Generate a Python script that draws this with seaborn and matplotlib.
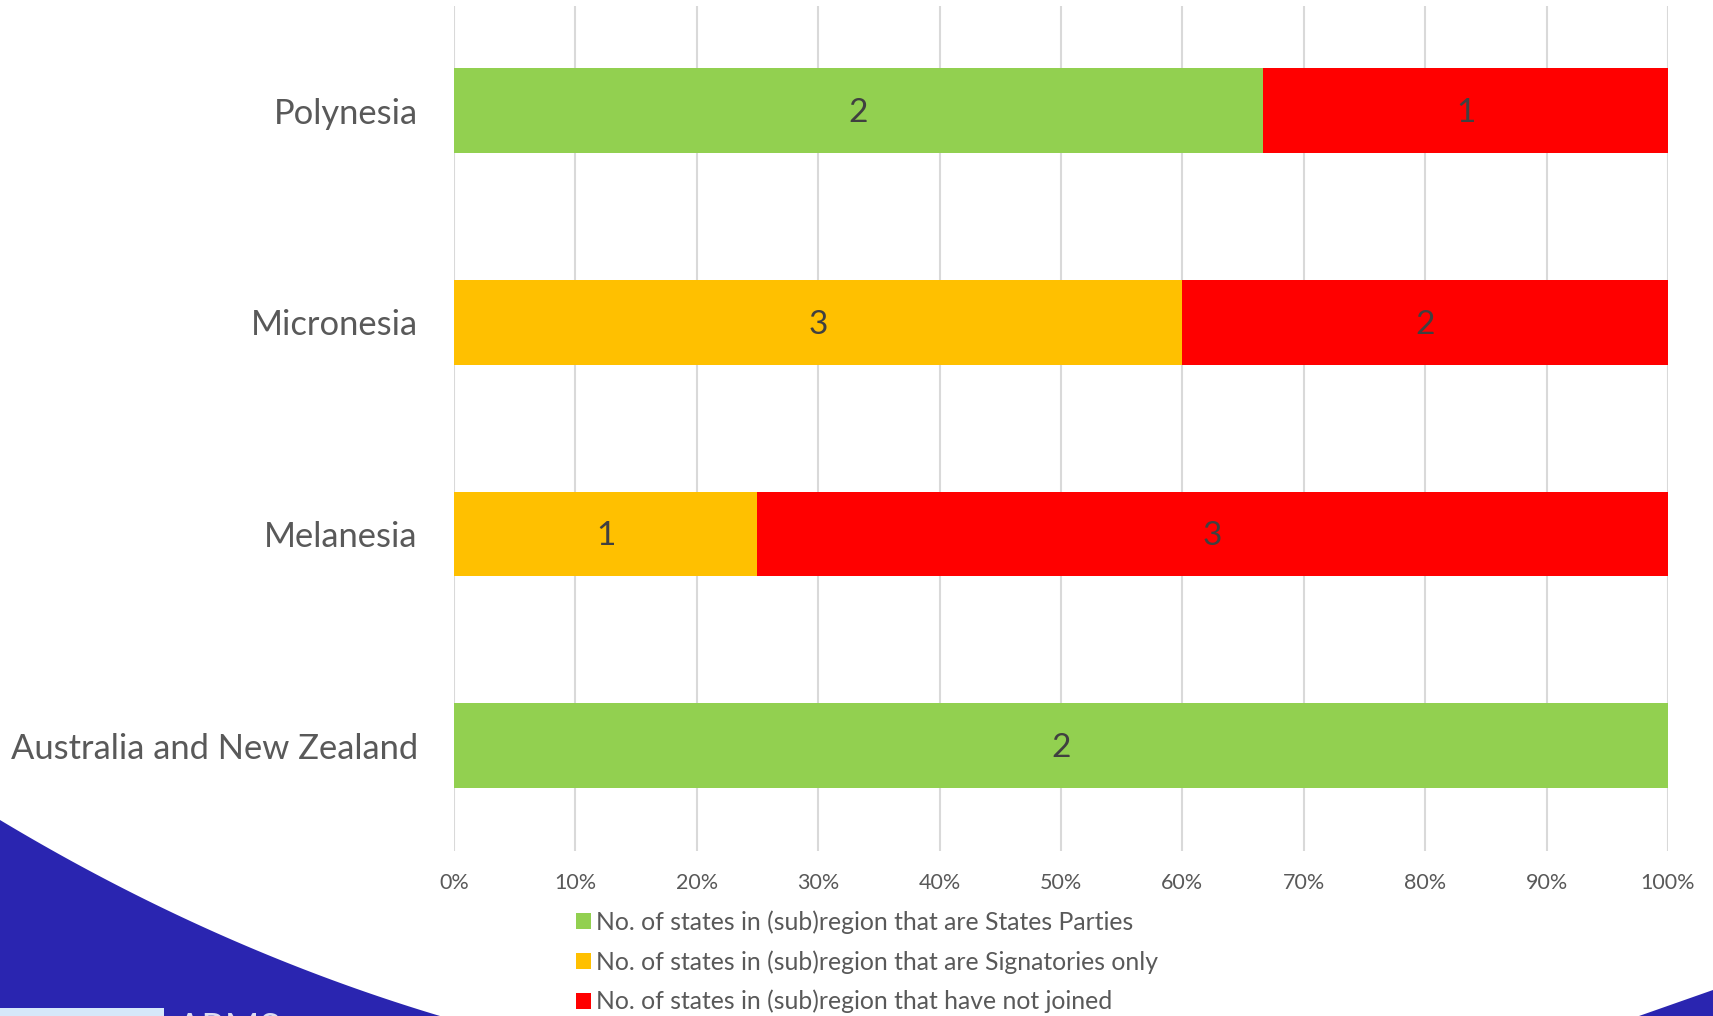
# Ratification status by Oceania (sub)region - 100% stacked bars
import numpy as np
import pandas as pd
import matplotlib.pyplot as plt
from matplotlib.patches import Patch, Polygon, Rectangle
import seaborn as sns

# Data
regions = ['Polynesia', 'Micronesia', 'Melanesia', 'Australia and New Zealand']
states_parties = [2, 0, 0, 2]
signatories_only = [0, 3, 1, 0]
not_joined = [1, 2, 3, 0]
legend_labels = ['No. of states in (sub)region that are States Parties',
                 'No. of states in (sub)region that are Signatories only',
                 'No. of states in (sub)region that have not joined']
colors = ['#92D050', '#FFC000', '#FF0000']

df = pd.DataFrame({'region': regions, 'parties': states_parties,
                   'signatories': signatories_only, 'notjoined': not_joined})
total = df[['parties', 'signatories', 'notjoined']].sum(axis=1)
df['p1'] = df['parties'] / total * 100
df['p2'] = (df['parties'] + df['signatories']) / total * 100
df['p3'] = (df['parties'] + df['signatories'] + df['notjoined']) / total * 100

sns.set_style('white')
plt.rcParams['font.family'] = ['Lato', 'DejaVu Sans']

fig = plt.figure(figsize=(17.13, 10.16), dpi=100)
ax = fig.add_axes([0.265, 0.1624, 0.7087, 0.832])

# Overlay cumulative bars: red (total), then orange, then green on top
for col, c in zip(['p3', 'p2', 'p1'], colors[::-1]):
    sns.barplot(data=df, y='region', x=col, orient='h', color=c,
                width=0.4, saturation=1, ax=ax, zorder=3, linewidth=0)

# Segment count labels
text_color = '#404040'
for i, row in df.iterrows():
    starts = [0, row['p1'], row['p2']]
    ends = [row['p1'], row['p2'], row['p3']]
    counts = [row['parties'], row['signatories'], row['notjoined']]
    for s, e, n in zip(starts, ends, counts):
        if n > 0:
            ax.text((s + e) / 2, i + 0.01, str(n), ha='center', va='center',
                    fontsize=24, color=text_color, zorder=5)

ax.set_xlim(0, 100)
ax.set_ylim(3.497, -0.496)
ax.set_xticks(np.arange(0, 101, 10))
ax.set_xticklabels([f'{v}%' for v in range(0, 101, 10)])
ax.set_xlabel('')
ax.set_ylabel('')
ax.grid(axis='x', color='#D9D9D9', linewidth=1.5, zorder=0)
ax.grid(axis='y', visible=False)
ax.set_axisbelow(True)
for sp in ax.spines.values():
    sp.set_visible(False)
ax.tick_params(axis='x', length=0, pad=16, labelsize=15.5, labelcolor='#595959')
ax.tick_params(axis='y', length=0, pad=26, labelsize=24.8, labelcolor='#595959')

handles = [Patch(facecolor=c, edgecolor='none') for c in colors]
fig.legend(handles, legend_labels, loc='upper left',
           bbox_to_anchor=(576 / 1713, 1 - 910 / 1016), frameon=False, fontsize=17.8,
           labelcolor='#595959', handlelength=0.6, handleheight=0.6,
           handletextpad=0.22, labelspacing=0.66, borderaxespad=0, borderpad=0)

# Slide decoration (blue swoosh and footer pieces)
blue = '#2A25B0'
W, H = 1713, 1016
t = np.linspace(0, 1, 60)
p0, p1, p2 = np.array([0, 820]), np.array([213, 948]), np.array([440, 1016])
bez = ((1 - t) ** 2)[:, None] * p0 + (2 * t * (1 - t))[:, None] * p1 + (t ** 2)[:, None] * p2
curve = [tuple(p) for p in bez] + [(0, 1016)]
fig.patches.append(Polygon([(x / W, 1 - y / H) for x, y in curve], closed=True,
                           transform=fig.transFigure, facecolor=blue, edgecolor='none'))
wedge = [(1639, 1016), (1713, 990), (1713, 1016)]
fig.patches.append(Polygon([(x / W, 1 - y / H) for x, y in wedge], closed=True,
                           transform=fig.transFigure, facecolor=blue, edgecolor='none'))
fig.patches.append(Rectangle((0, 0), 164 / W, 8 / H, transform=fig.transFigure,
                             facecolor='#D6E8FA', edgecolor='none'))
fig.text(177 / W, -25 / H, 'ARMS', fontsize=27, color='#DCDCF0', ha='left', va='baseline')

fig.savefig('out.png', dpi=100)
